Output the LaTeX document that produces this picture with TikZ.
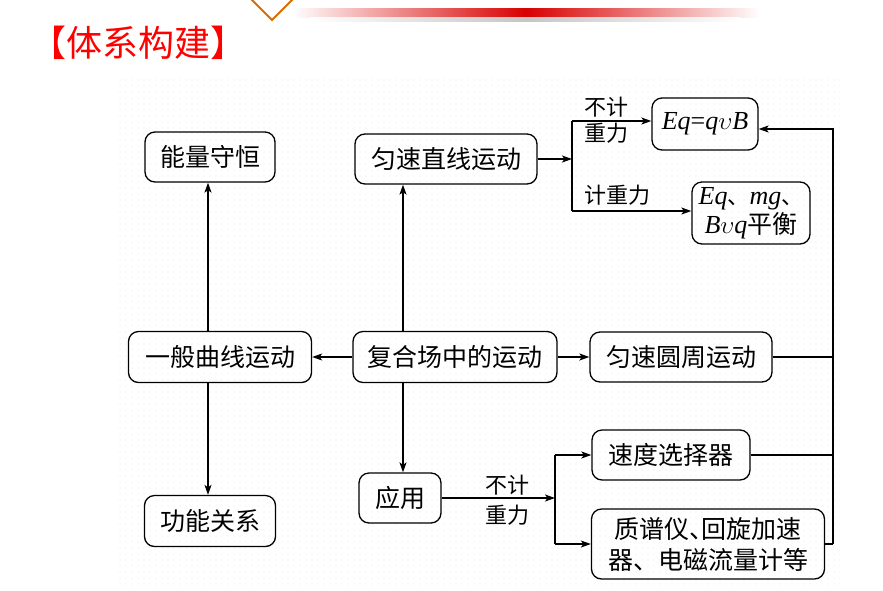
\documentclass[tikz,border=0pt]{standalone}
\usepackage{fontspec}
\newfontfamily\cjk{Noto Sans CJK SC}
\newfontfamily\tms{Liberation Serif}
\usetikzlibrary{arrows.meta,patterns.meta,calc}
\begin{document}
\begin{tikzpicture}[x=1pt,y=-1pt,
  box/.style={draw, line width=1.3pt, rounded corners=10pt, inner sep=0pt, align=center,
    font=\cjk\fontsize{25}{31}\selectfont},
  lab/.style={inner sep=0pt, align=left, font=\cjk\fontsize{22}{26}\selectfont},
  arr/.style={line width=1.3pt, -{Stealth[length=10pt,width=7pt,inset=2.5pt]}},
  ln/.style={line width=1.3pt}]
\useasboundingbox (0,0) rectangle (883,590);
% dotted background
\fill[pattern={Dots[radius=0.45pt,distance=6pt]}, pattern color=black!30] (118,78) rectangle (840,588);
% header decoration
\shade[left color=white, right color=white, middle color=red!85!black] (292,8) rectangle (760,17);
\shade[left color=white, right color=white, middle color=gray!45] (310,17) rectangle (740,21);
\draw[orange!85!black, line width=2pt, fill=white] (272,-20) -- (292,0) -- (272,20) -- (252,0) -- cycle;
% title
\node[anchor=west, inner sep=0pt, text=red, font=\cjk\fontsize{36}{40}\selectfont] (title) at (30,43) {【体系构建】};

% nodes
\node[box, minimum width=130, minimum height=50] (nl) at (210,157) {能量守恒};
\node[box, minimum width=182, minimum height=50] (yszx) at (446,159) {匀速直线运动};
\node[box, minimum width=106, minimum height=52, font=\tms\fontsize{26}{26}\selectfont] (eqb) at (705,124)
  {\itshape Eq\upshape=\itshape q$\upsilon$B};
\node[box, minimum width=118, minimum height=62, font=\tms\fontsize{26}{29}\selectfont] (eqmg) at (751,213)
  {\itshape Eq{\cjk\upshape\fontsize{22}{29}\selectfont 、}mg{\cjk\upshape\fontsize{22}{29}\selectfont 、}\\ \itshape B$\upsilon$q{\cjk\upshape\fontsize{25}{29}\selectfont 平衡}};
\node[box, minimum width=183, minimum height=51] (ybqx) at (220,357) {一般曲线运动};
\node[box, minimum width=204, minimum height=51] (fhc) at (455,357) {复合场中的运动};
\node[box, minimum width=182, minimum height=50] (yszy) at (681,357) {匀速圆周运动};
\node[box, minimum width=82, minimum height=50] (yy) at (400,498) {应用};
\node[box, minimum width=131, minimum height=51] (gn) at (210,521) {功能关系};
\node[box, minimum width=158, minimum height=50] (sdx) at (671,455) {速度选择器};
\node[box, minimum width=233, minimum height=70] (zpy) at (708,544)
  {质谱仪\makebox[0.5em][l]{、}回旋加速\\器、电磁流量计等};

% labels
\node[lab, anchor=west] (l1) at (584,120) {不计\\重力};
\node[lab, anchor=west] (l2) at (584,195) {计重力};
\node[lab, anchor=center, font=\cjk\fontsize{22}{30}\selectfont] (l3) at (507,500) {不计\\重力};

% helper coordinates
\coordinate (lx) at (208,0);
\coordinate (cx) at (403,0);
\coordinate (j1) at (572,0);
\coordinate (j2) at (555,0);
\coordinate (rx) at (833,0);
\coordinate (ein) at ($(eqb.west)+(0,-3)$);
\coordinate (min) at ($(eqmg.west)+(0,-2)$);
\coordinate (rin) at ($(eqb.east)+(0,5)$);

% connectors
\draw[arr] (fhc.west) -- (ybqx.east);
\draw[arr] (fhc.east) -- (yszy.west);
\draw[arr] (fhc.north -| cx) -- (yszx.south -| cx);
\draw[arr] (fhc.south -| cx) -- (yy.north -| cx);
\draw[arr] (ybqx.north -| lx) -- (nl.south -| lx);
\draw[arr] (ybqx.south -| lx) -- (gn.north -| lx);

\draw[arr] (yszx.east) -- (yszx.east -| j1);
\draw[ln] (ein -| j1) -- (min -| j1);
\draw[arr] (ein -| j1) -- (ein);
\draw[arr] (min -| j1) -- (min);

\draw[arr] (zpy.east -| rx) -- (rin -| rx) -- (rin);
\draw[ln] (yszy.east) -- (yszy.east -| rx);
\draw[ln] (sdx.east) -- (sdx.east -| rx);
\draw[ln] (zpy.east) -- (zpy.east -| rx);

\draw[arr] (yy.east) -- (yy.east -| j2);
\draw[ln] (sdx.west -| j2) -- (zpy.west -| j2);
\draw[arr] (sdx.west -| j2) -- (sdx.west);
\draw[arr] (zpy.west -| j2) -- (zpy.west);
\end{tikzpicture}
\end{document}
